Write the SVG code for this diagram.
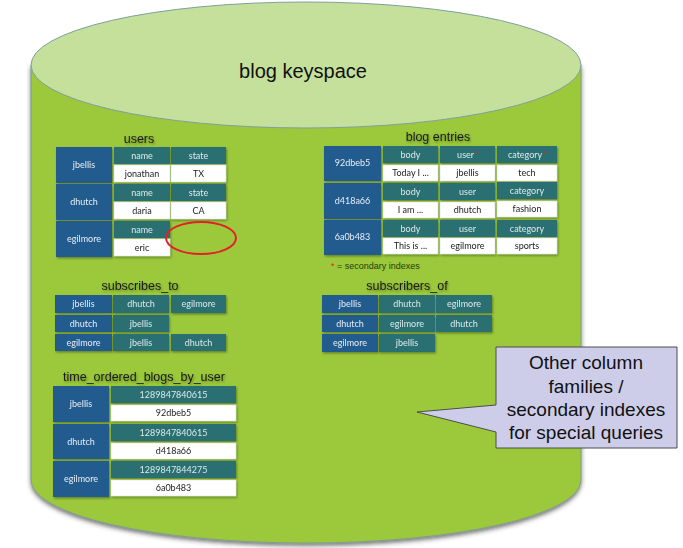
<svg xmlns="http://www.w3.org/2000/svg" width="683" height="548" viewBox="0 0 683 548">
<defs>
<filter id="sh" x="-10%" y="-10%" width="120%" height="130%"><feDropShadow dx="1" dy="1.5" stdDeviation="1" flood-color="#000" flood-opacity="0.35"/></filter>
<filter id="bsh" x="-10%" y="-10%" width="120%" height="130%"><feDropShadow dx="0" dy="2.5" stdDeviation="2" flood-color="#333" flood-opacity="0.65"/></filter>
<style>
.key{fill:#215B8E}
.hdr{fill:#2B7073}
.val{fill:#fff;stroke:#d0d8d8;stroke-width:0.5}
.t{font-family:Lato,"Open Sans","Liberation Sans",sans-serif;font-size:9px;text-anchor:middle}
.kt{fill:#e8eef4}
.ht{fill:#dde9e9}
.vt{fill:#222}
.title{font-family:"Liberation Sans",Arial,sans-serif;font-size:12.5px;fill:#1a1a1a;text-anchor:middle}
</style>
</defs>
<g id="keyspace">
<path d="M31,65 V480 A275,63 0 0 0 581,480 V65 Z" fill="#9BC93B" stroke="#7E9E8E" stroke-width="1" filter="url(#bsh)"/>
<ellipse cx="306" cy="65" rx="275" ry="63" fill="#C5E09A" stroke="#7F9F9F" stroke-width="1"/>
<text x="303" y="78" font-family="'Liberation Sans',Arial,sans-serif" font-size="20" fill="#111" text-anchor="middle">blog keyspace</text>
</g>
<g id="users" filter="url(#sh)">
<text class="title" x="139" y="143">users</text>
<rect class="key" x="56" y="147" width="56" height="36"/>
<rect class="hdr" x="114" y="147" width="56" height="17"/>
<rect class="hdr" x="171" y="147" width="55" height="17"/>
<rect class="val" x="114" y="165" width="56" height="17"/>
<rect class="val" x="171" y="165" width="55" height="17"/>
<rect class="key" x="56" y="184" width="56" height="36"/>
<rect class="hdr" x="114" y="184" width="56" height="17"/>
<rect class="hdr" x="171" y="184" width="55" height="17"/>
<rect class="val" x="114" y="202" width="56" height="17"/>
<rect class="val" x="171" y="202" width="55" height="17"/>
<rect class="key" x="56" y="221" width="56" height="36"/>
<rect class="hdr" x="114" y="221" width="56" height="17"/>
<rect class="val" x="114" y="239" width="56" height="17"/>
<text class="t kt" x="84" y="168">jbellis</text>
<text class="t ht" x="142" y="159">name</text>
<text class="t ht" x="198.5" y="159">state</text>
<text class="t vt" x="142" y="177">jonathan</text>
<text class="t vt" x="198.5" y="177">TX</text>
<text class="t kt" x="84" y="205">dhutch</text>
<text class="t ht" x="142" y="196">name</text>
<text class="t ht" x="198.5" y="196">state</text>
<text class="t vt" x="142" y="214">daria</text>
<text class="t vt" x="198.5" y="214">CA</text>
<text class="t kt" x="84" y="242">egilmore</text>
<text class="t ht" x="142" y="233">name</text>
<text class="t vt" x="142" y="251">eric</text>
</g>
<ellipse id="red-mark" cx="201" cy="238" rx="35" ry="16" fill="none" stroke="#E3202A" stroke-width="2"/>
<g id="blog-entries" filter="url(#sh)">
<text class="title" x="438" y="141">blog entries</text>
<rect class="key" x="324" y="146" width="57" height="35"/>
<rect class="hdr" x="383" y="146" width="55" height="17"/>
<rect class="hdr" x="440" y="146" width="55" height="17"/>
<rect class="hdr" x="497" y="146" width="60" height="17"/>
<rect class="val" x="383" y="165" width="55" height="16"/>
<rect class="val" x="440" y="165" width="55" height="16"/>
<rect class="val" x="497" y="165" width="60" height="16"/>
<rect class="key" x="324" y="183" width="57" height="36"/>
<rect class="hdr" x="383" y="183" width="55" height="17"/>
<rect class="hdr" x="440" y="183" width="55" height="17"/>
<rect class="hdr" x="497" y="182" width="60" height="17"/>
<rect class="val" x="383" y="202" width="55" height="16"/>
<rect class="val" x="440" y="202" width="55" height="16"/>
<rect class="val" x="497" y="201" width="60" height="16"/>
<rect class="key" x="324" y="220" width="57" height="35"/>
<rect class="hdr" x="383" y="220" width="55" height="17"/>
<rect class="hdr" x="440" y="220" width="55" height="17"/>
<rect class="hdr" x="497" y="220" width="60" height="17"/>
<rect class="val" x="383" y="238" width="55" height="16"/>
<rect class="val" x="440" y="238" width="55" height="16"/>
<rect class="val" x="497" y="238" width="60" height="16"/>
<text class="t kt" x="352.5" y="166">92dbeb5</text>
<text class="t ht" x="410.5" y="158">body</text>
<text class="t ht" x="467.5" y="158">user<tspan fill="#E3202A">*</tspan></text>
<text class="t ht" x="527" y="158">category<tspan fill="#E3202A">*</tspan></text>
<text class="t vt" x="410.5" y="176">Today I ...</text>
<text class="t vt" x="467.5" y="176">jbellis</text>
<text class="t vt" x="527" y="176">tech</text>
<text class="t kt" x="352.5" y="204">d418a66</text>
<text class="t ht" x="410.5" y="195">body</text>
<text class="t ht" x="467.5" y="195">user</text>
<text class="t ht" x="527" y="194">category</text>
<text class="t vt" x="410.5" y="213">I am ...</text>
<text class="t vt" x="467.5" y="213">dhutch</text>
<text class="t vt" x="527" y="212">fashion</text>
<text class="t kt" x="352.5" y="240">6a0b483</text>
<text class="t ht" x="410.5" y="232">body</text>
<text class="t ht" x="467.5" y="232">user</text>
<text class="t ht" x="527" y="232">category</text>
<text class="t vt" x="410.5" y="249">This is ...</text>
<text class="t vt" x="467.5" y="249">egilmore</text>
<text class="t vt" x="527" y="249">sports</text>
</g>
<text id="note" x="331" y="269" font-family="'Liberation Sans',Arial,sans-serif" font-size="9" fill="#2a3a10"><tspan fill="#E3202A">*</tspan> = secondary indexes</text>
<g id="subscribes-to" filter="url(#sh)">
<text class="title" x="140" y="290">subscribes_to</text>
<rect class="key" x="55" y="295" width="57" height="18"/>
<rect class="hdr" x="113" y="295" width="56" height="18"/>
<rect class="hdr" x="171" y="295" width="55" height="18"/>
<rect class="key" x="55" y="315" width="57" height="17"/>
<rect class="hdr" x="113" y="315" width="56" height="17"/>
<rect class="key" x="55" y="334" width="57" height="17"/>
<rect class="hdr" x="113" y="334" width="56" height="17"/>
<rect class="hdr" x="171" y="334" width="55" height="17"/>
<text class="t kt" x="83.5" y="307">jbellis</text>
<text class="t ht" x="141" y="307">dhutch</text>
<text class="t ht" x="198.5" y="307">egilmore</text>
<text class="t kt" x="83.5" y="326.5">dhutch</text>
<text class="t ht" x="141" y="326.5">jbellis</text>
<text class="t kt" x="83.5" y="345.5">egilmore</text>
<text class="t ht" x="141" y="345.5">jbellis</text>
<text class="t ht" x="198.5" y="345.5">dhutch</text>
</g>
<g id="subscribers-of" filter="url(#sh)">
<text class="title" x="407" y="290">subscribers_of</text>
<rect class="key" x="322" y="295" width="56" height="18"/>
<rect class="hdr" x="379" y="295" width="56" height="18"/>
<rect class="hdr" x="436" y="295" width="56" height="18"/>
<rect class="key" x="322" y="315" width="56" height="17"/>
<rect class="hdr" x="379" y="315" width="56" height="17"/>
<rect class="hdr" x="436" y="315" width="56" height="17"/>
<rect class="key" x="322" y="334" width="56" height="18"/>
<rect class="hdr" x="379" y="334" width="56" height="18"/>
<text class="t kt" x="350" y="307">jbellis</text>
<text class="t ht" x="407" y="307">dhutch</text>
<text class="t ht" x="464" y="307">egilmore</text>
<text class="t kt" x="350" y="326.5">dhutch</text>
<text class="t ht" x="407" y="326.5">egilmore</text>
<text class="t ht" x="464" y="326.5">dhutch</text>
<text class="t kt" x="350" y="346">egilmore</text>
<text class="t ht" x="407" y="346">jbellis</text>
</g>
<g id="time-ordered-blogs-by-user" filter="url(#sh)">
<text class="title" x="144" y="381">time_ordered_blogs_by_user</text>
<rect class="key" x="53" y="386" width="56" height="36"/>
<rect class="hdr" x="111" y="386" width="125" height="17"/>
<rect class="val" x="111" y="405" width="125" height="16"/>
<rect class="key" x="53" y="424" width="56" height="35"/>
<rect class="hdr" x="111" y="424" width="125" height="17"/>
<rect class="val" x="111" y="443" width="125" height="16"/>
<rect class="key" x="53" y="461" width="56" height="36"/>
<rect class="hdr" x="111" y="461" width="125" height="17"/>
<rect class="val" x="111" y="480" width="125" height="16"/>
<text class="t kt" x="81" y="407">jbellis</text>
<text class="t ht" x="173.5" y="398">1289847840615</text>
<text class="t vt" x="173.5" y="416">92dbeb5</text>
<text class="t kt" x="81" y="444.5">dhutch</text>
<text class="t ht" x="173.5" y="436">1289847840615</text>
<text class="t vt" x="173.5" y="454">d418a66</text>
<text class="t kt" x="81" y="482">egilmore</text>
<text class="t ht" x="173.5" y="473">1289847844275</text>
<text class="t vt" x="173.5" y="491">6a0b483</text>
</g>
<g id="callout">
<path d="M496,347 H677 V448 H496 V432 L417,412 L496,405 Z" fill="#CDCDE9" stroke="#4d4d4d" stroke-width="1"/>
<g font-family="'Liberation Sans',Arial,sans-serif" font-size="19" fill="#111" text-anchor="middle">
<text x="586" y="369">Other column</text>
<text x="586" y="393">families /</text>
<text x="586" y="416">secondary indexes</text>
<text x="586" y="439">for special queries</text>
</g>
</g>
</svg>
